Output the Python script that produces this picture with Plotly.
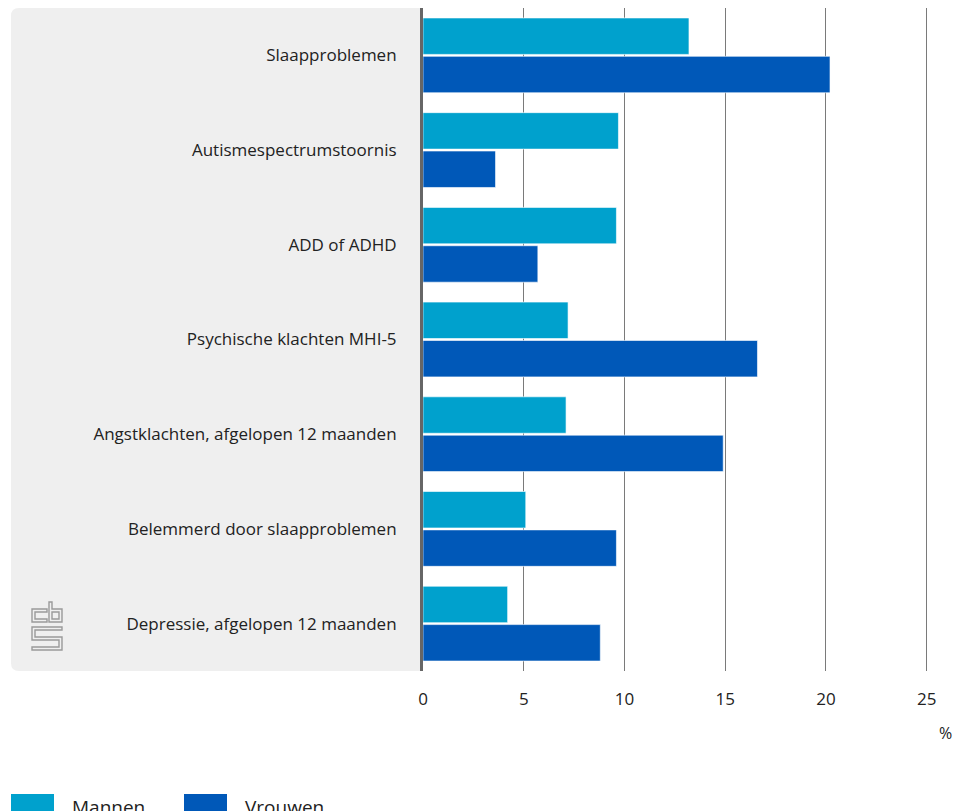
import plotly.graph_objects as go

categories = [
    "Slaapproblemen",
    "Autismespectrumstoornis",
    "ADD of ADHD",
    "Psychische klachten MHI-5",
    "Angstklachten, afgelopen 12 maanden",
    "Belemmerd door slaapproblemen",
    "Depressie, afgelopen 12 maanden",
]
mannen = [13.2, 9.7, 9.6, 7.2, 7.1, 5.1, 4.2]
vrouwen = [20.2, 3.6, 5.7, 16.6, 14.9, 9.6, 8.8]
series_names = ["Mannen", "Vrouwen"]
series_colors = ["#00A1CD", "#0058B8"]
x_ticks = [0, 5, 10, 15, 20, 25]
unit_label = "%"

# page body has an 8px margin; work in reference pixel coords and shift
OFF = 8
W, H = 963 - OFF, 811 - OFF
L, R, T, B = 423 - OFF, 0, 8 - OFF, 811 - 671
PW, PH = W - L - R, H - T - B
FONT = "Open Sans"
TXT = "#222222"


def px(x):
    return (x - OFF - L) / PW


def py(y):
    return 1 - (y - OFF - T) / PH


def path(points, close=True):
    s = "M " + " L ".join(f"{px(x):.5f},{py(y):.5f}" for x, y in points)
    return s + (" Z" if close else "")


fig = go.Figure()
for name, vals, col in zip(series_names, [mannen, vrouwen], series_colors):
    fig.add_trace(go.Bar(
        y=categories, x=vals, name=name, orientation="h",
        marker=dict(color=col, line=dict(color="rgba(255,255,255,0.6)", width=1)),
        showlegend=False,
    ))

shapes = []
# grey panel behind category labels (rounded left corners)
r = 8
x0, x1, y0, y1 = 11, 423, 8, 671
panel = (f"M {px(x1):.5f},{py(y0):.5f} L {px(x0 + r):.5f},{py(y0):.5f} "
         f"Q {px(x0):.5f},{py(y0):.5f} {px(x0):.5f},{py(y0 + r):.5f} "
         f"L {px(x0):.5f},{py(y1 - r):.5f} "
         f"Q {px(x0):.5f},{py(y1):.5f} {px(x0 + r):.5f},{py(y1):.5f} "
         f"L {px(x1):.5f},{py(y1):.5f} Z")
shapes.append(dict(type="path", xref="paper", yref="paper", path=panel,
                   fillcolor="#EFEFEF", line=dict(width=0), layer="below"))

# cbs logo (outline strokes)
logo_col = "#9A9A9A"
logo_paths = [
    [(47, 609), (32, 609), (32, 622), (47, 622), (47, 619), (35, 619), (35, 612), (47, 612)],
    [(49, 602), (52, 602), (52, 609), (62, 609), (62, 622), (49, 622)],
    [(52, 612), (59, 612), (59, 619), (52, 619)],
    [(32, 627), (62, 627), (62, 630), (35, 630), (35, 637), (62, 637), (62, 650),
     (32, 650), (32, 647), (59, 647), (59, 640), (32, 640)],
]
for p in logo_paths:
    shapes.append(dict(type="path", xref="paper", yref="paper", path=path(p),
                       line=dict(color=logo_col, width=1.4), fillcolor="rgba(0,0,0,0)"))

# legend
annotations = []
leg = [(11, 70), (184, 243)]
for (rx, tx), name, col in zip(leg, series_names, series_colors):
    shapes.append(dict(type="rect", xref="paper", yref="paper",
                       x0=px(rx), x1=px(rx + 43), y0=py(811), y1=py(794),
                       fillcolor=col, line=dict(width=0)))
    annotations.append(dict(xref="paper", yref="paper", x=px(tx), y=py(792),
                            text=name, showarrow=False, xanchor="left", yanchor="top",
                            font=dict(family=FONT, size=19, color=TXT)))

annotations.append(dict(xref="paper", yref="paper", x=px(954), y=py(733),
                        text=unit_label, showarrow=False, xanchor="right", yanchor="middle",
                        font=dict(family=FONT, size=16, color=TXT)))

fig.update_layout(
    width=W, height=H,
    margin=dict(l=L, r=R, t=T, b=B, pad=0),
    paper_bgcolor="white", plot_bgcolor="white",
    barmode="group", bargap=0.19, bargroupgap=0.05,
    font=dict(family=FONT, size=17, color=TXT),
    shapes=shapes, annotations=annotations,
    xaxis=dict(range=[0, 26.8], tickvals=x_ticks, showgrid=True,
               gridcolor="#7A7A7A", gridwidth=1, zeroline=False,
               ticks="outside", ticklen=13, tickcolor="rgba(0,0,0,0)",
               tickfont=dict(family=FONT, size=17, color=TXT), fixedrange=True),
    yaxis=dict(categoryorder="array", categoryarray=categories, autorange="reversed",
               showgrid=False, zeroline=False, showline=True, linecolor="#666",
               linewidth=3, ticks="outside", ticklen=20, tickcolor="rgba(0,0,0,0)",
               tickfont=dict(family=FONT, size=17, color=TXT), fixedrange=True),
)

fig.write_html("out.html", post_script="document.body.style.overflow='hidden';")
